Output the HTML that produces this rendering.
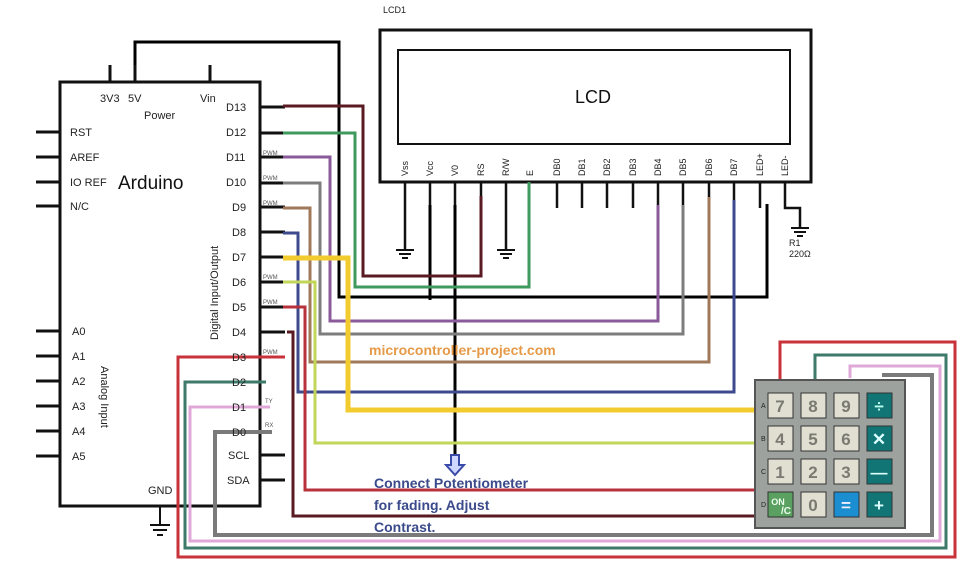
<!DOCTYPE html>
<html><head><meta charset="utf-8"><style>
html,body{margin:0;padding:0;background:#fff;width:966px;height:573px;overflow:hidden}
svg{display:block;font-family:"Liberation Sans",sans-serif}
</style></head><body>
<svg width="966" height="573" viewBox="0 0 966 573" xmlns="http://www.w3.org/2000/svg">
<g fill="none" stroke-linejoin="miter">
<!-- Arduino box -->
<rect x="60" y="82" width="200" height="424" stroke="#111" stroke-width="3"/>
<g stroke="#111" stroke-width="3">
<path d="M110 65V82M135 65V82M210 65V82"/>
<path d="M36 132H60M36 157H60M36 182H60M36 206H60M36 331H60M36 356H60M36 381H60M36 406H60M36 431H60M36 456H60"/>
<path d="M260 107H285M260 133H285M260 157H285M260 183H285M260 207H285M260 232H285M260 257H285M260 282H285M260 307H285M260 332H285M260 455H285M260 480H285"/>
<path d="M160 506V525M150 525H170M153 530H167M157 535H163" stroke-width="2"/>
</g>
<!-- LCD -->
<rect x="380" y="30" width="431" height="152" stroke="#111" stroke-width="3"/>
<rect x="398" y="50" width="392" height="94" stroke="#111" stroke-width="2"/>
<g stroke="#111" stroke-width="2.5">
<path d="M405 182V250M430 182V210M455 182V210M481 182V210M506 182V250M557 182V208M582 182V208M607 182V208M633 182V208M658 182V208M683 182V208M709 182V208M734 182V208M760 182V208M785 182V208H800V228"/>
<path d="M396 250H414M399 254H411M402 258H408M497 250H515M500 254H512M503 258H509M791 228H809M794 232H806M797 236H803" stroke-width="2"/>
</g>
<!-- 5V black -->
<path d="M135 65V42H339V297H767V204" stroke="#000" stroke-width="3"/>
<path d="M430 205V300" stroke="#000" stroke-width="3"/>
<path d="M455 205V462" stroke="#000" stroke-width="3"/>
<!-- RS darkred D13 -->
<path d="M283 106H363V276H481V196" stroke="#5a1a22" stroke-width="3"/>
<!-- E green D12 -->
<path d="M283 133H355V287H529V182" stroke="#3f9a5e" stroke-width="3"/>
<path d="M283 157H330V321H658V205" stroke="#8a5a9a" stroke-width="3"/>
<path d="M283 183H320V334H683V205" stroke="#7d7d7d" stroke-width="3"/>
<path d="M283 208H310V362H709V197" stroke="#a0785a" stroke-width="3"/>
<path d="M283 233H298V392H734V200" stroke="#3d4a8e" stroke-width="3"/>
<path d="M283 258H348V410H755" stroke="#f2cb2e" stroke-width="5"/>
<path d="M283 282H315V443H755" stroke="#c2d65a" stroke-width="3"/>
<path d="M283 307H305V490H755" stroke="#b8323c" stroke-width="3"/>
<path d="M287 332H293V516H755" stroke="#5a1a22" stroke-width="3"/>
<!-- bottom loops -->
<path d="M285 357H178V557H955V342H780V382" stroke="#c8323a" stroke-width="3"/>
<path d="M266 382H185V548H946V355H815V382" stroke="#3d7a6a" stroke-width="3"/>
<path d="M270 407H190V541H940V366H850V378" stroke="#e0a8d8" stroke-width="3"/>
<path d="M272 432H215V535H932V375H882" stroke="#7a7a7a" stroke-width="4"/>
<!-- arrow -->
<path d="M451 455V465H446L455 475L464 465H459V455Z" stroke="#3a4aa8" stroke-width="2" fill="#cfd6ff"/>
</g>
<!-- keypad -->
<rect x="755" y="380" width="150" height="148" fill="#9ea29f" stroke="#555" stroke-width="2"/>
<g font-weight="bold" font-size="17" text-anchor="middle" fill="#7a7a72">
<rect x="768" y="393" width="25" height="25" fill="#e1dfd2" stroke="#333"/><text x="780" y="412">7</text>
<rect x="801" y="393" width="25" height="25" fill="#e1dfd2" stroke="#333"/><text x="813" y="412">8</text>
<rect x="834" y="393" width="25" height="25" fill="#e1dfd2" stroke="#333"/><text x="846" y="412">9</text>
<rect x="867" y="393" width="25" height="25" fill="#117575" stroke="#333"/><text x="879" y="412" fill="#bfe">÷</text>
<rect x="768" y="426" width="25" height="25" fill="#e1dfd2" stroke="#333"/><text x="780" y="445">4</text>
<rect x="801" y="426" width="25" height="25" fill="#e1dfd2" stroke="#333"/><text x="813" y="445">5</text>
<rect x="834" y="426" width="25" height="25" fill="#e1dfd2" stroke="#333"/><text x="846" y="445">6</text>
<rect x="867" y="426" width="25" height="25" fill="#117575" stroke="#333"/><text x="879" y="445" fill="#dff">✕</text>
<rect x="768" y="459" width="25" height="25" fill="#e1dfd2" stroke="#333"/><text x="780" y="478">1</text>
<rect x="801" y="459" width="25" height="25" fill="#e1dfd2" stroke="#333"/><text x="813" y="478">2</text>
<rect x="834" y="459" width="25" height="25" fill="#e1dfd2" stroke="#333"/><text x="846" y="478">3</text>
<rect x="867" y="459" width="25" height="25" fill="#117575" stroke="#333"/><text x="879" y="478" fill="#dff">—</text>
<rect x="768" y="492" width="25" height="25" fill="#5aa060" stroke="#333"/><text x="778" y="505" font-size="9" fill="#efe">ON</text><text x="786" y="514" font-size="10" fill="#efe">/C</text>
<rect x="801" y="492" width="25" height="25" fill="#e1dfd2" stroke="#333"/><text x="813" y="511">0</text>
<rect x="834" y="492" width="25" height="25" fill="#1a8ed0" stroke="#333"/><text x="846" y="511" fill="#eef">=</text>
<rect x="867" y="492" width="25" height="25" fill="#117575" stroke="#333"/><text x="879" y="511" fill="#dff">+</text>
</g>
<g font-size="7" fill="#222"><text x="761" y="408">A</text><text x="761" y="441">B</text><text x="761" y="474">C</text><text x="761" y="507">D</text></g>
<!-- text -->
<g fill="#222" font-size="11">
<text x="100" y="102">3V3</text><text x="128" y="102">5V</text><text x="200" y="102">Vin</text><text x="144" y="119">Power</text>
<text x="70" y="136">RST</text><text x="70" y="161">AREF</text><text x="70" y="186">IO REF</text><text x="70" y="210">N/C</text>
<text x="72" y="335">A0</text><text x="72" y="360">A1</text><text x="72" y="385">A2</text><text x="72" y="410">A3</text><text x="72" y="435">A4</text><text x="72" y="460">A5</text>
<text x="226" y="111">D13</text><text x="226" y="136">D12</text><text x="226" y="161">D11</text><text x="226" y="186">D10</text>
<text x="232" y="211">D9</text><text x="232" y="236">D8</text><text x="232" y="261">D7</text><text x="232" y="286">D6</text><text x="232" y="311">D5</text><text x="232" y="336">D4</text><text x="232" y="361">D3</text><text x="232" y="386">D2</text><text x="232" y="411">D1</text><text x="232" y="436">D0</text>
<text x="228" y="459">SCL</text><text x="227" y="484">SDA</text><text x="148" y="494">GND</text>
<text x="0" y="0" transform="translate(218,340) rotate(-90)">Digital Input/Output</text>
<text x="0" y="0" transform="translate(101,366) rotate(90)">Analog Input</text>
<text x="383" y="13" font-size="9">LCD1</text>
<text x="789" y="246" font-size="9">R1</text><text x="789" y="257" font-size="9">220Ω</text>
</g>
<g font-size="6" fill="#555"><text x="263" y="155">PWM</text><text x="263" y="180">PWM</text><text x="263" y="205">PWM</text><text x="263" y="279">PWM</text><text x="263" y="304">PWM</text><text x="263" y="354">PWM</text><text x="265" y="403">TY</text><text x="265" y="427">RX</text></g>
<text x="118" y="189" font-size="19" fill="#111">Arduino</text>
<text x="575" y="103" font-size="18" fill="#111">LCD</text>
<g font-size="9" fill="#222">
<text transform="translate(408,176) rotate(-90)">Vss</text><text transform="translate(433,176) rotate(-90)">Vcc</text><text transform="translate(458,176) rotate(-90)">V0</text><text transform="translate(484,176) rotate(-90)">RS</text><text transform="translate(509,176) rotate(-90)">R/W</text><text transform="translate(533,176) rotate(-90)">E</text>
<text transform="translate(560,176) rotate(-90)">DB0</text><text transform="translate(585,176) rotate(-90)">DB1</text><text transform="translate(610,176) rotate(-90)">DB2</text><text transform="translate(636,176) rotate(-90)">DB3</text><text transform="translate(661,176) rotate(-90)">DB4</text><text transform="translate(686,176) rotate(-90)">DB5</text><text transform="translate(712,176) rotate(-90)">DB6</text><text transform="translate(737,176) rotate(-90)">DB7</text><text transform="translate(763,176) rotate(-90)">LED+</text><text transform="translate(788,176) rotate(-90)">LED-</text>
</g>
<text x="369" y="355" font-size="14" font-weight="bold" fill="#e59a48">microcontroller-project.com</text>
<g font-size="14" font-weight="bold" fill="#3a4a8a"><text x="374" y="488">Connect Potentiometer</text><text x="374" y="510">for fading. Adjust</text><text x="374" y="532">Contrast.</text></g>
</svg>
</body></html>
